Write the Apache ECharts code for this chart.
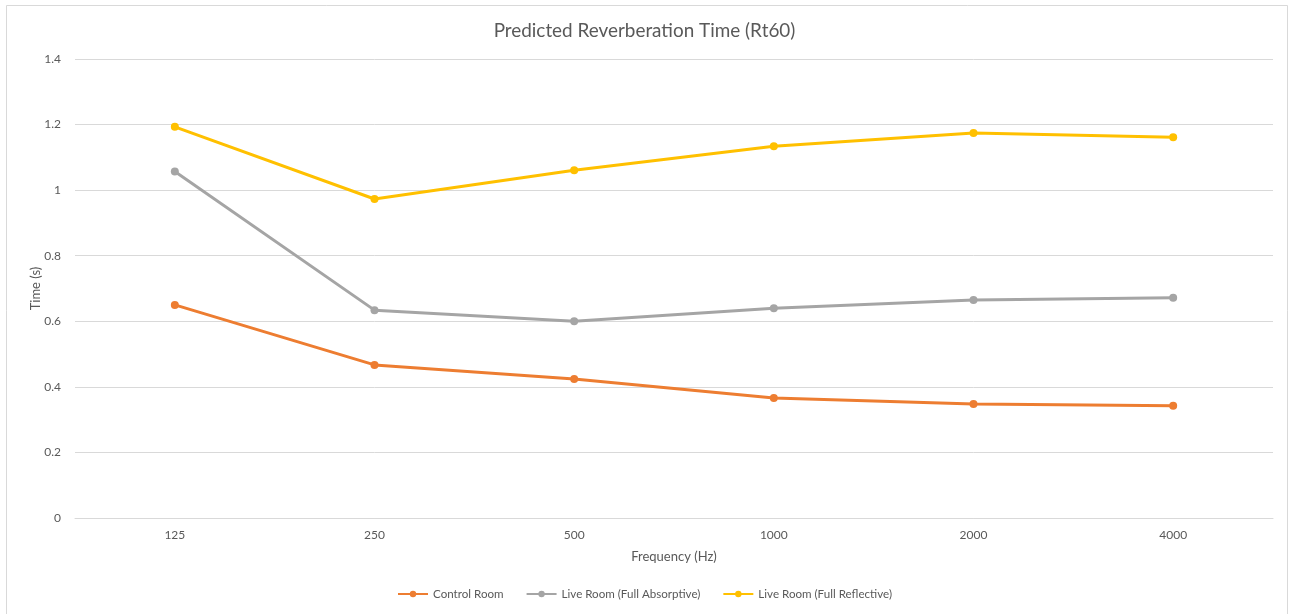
<!DOCTYPE html>
<html>
<head>
<meta charset="utf-8">
<script src="https://cdn.jsdelivr.net/npm/echarts@6/dist/echarts.min.js"></script>
<style>
  html, body { margin: 0; padding: 0; background: #fff; }
  #chart { width: 1289px; height: 614px; }
</style>
</head>
<body>
<div id="chart"></div>
<script>
// Octave-band centre frequencies (Hz)
const frequencies = ['125', '250', '500', '1000', '2000', '4000'];

// Predicted RT60 (seconds) per room configuration
const controlRoom = [0.650, 0.467, 0.424, 0.366, 0.348, 0.342];
const liveAbsorptive = [1.057, 0.634, 0.600, 0.640, 0.665, 0.672];
const liveReflective = [1.193, 0.973, 1.061, 1.134, 1.174, 1.161];

const yTicks = { min: 0, max: 1.4, interval: 0.2 };

const FONT = 'Lato, "Open Sans", sans-serif';
const TEXT = '#595959';

const chart = echarts.init(document.getElementById('chart'));

function lineSeries(name, data, color) {
  return {
    name: name,
    type: 'line',
    data: data,
    symbol: 'circle',
    symbolSize: 8,
    lineStyle: { width: 3, color: color },
    itemStyle: { color: color },
    emphasis: { disabled: true },
    animation: false
  };
}

chart.setOption({
  backgroundColor: '#fff',
  animation: false,
  title: {
    text: 'Predicted Reverberation Time (Rt60)',
    left: 'center',
    top: 16,
    textStyle: { fontFamily: FONT, fontSize: 18.9, fontWeight: 'normal', color: TEXT }
  },
  graphic: [{
    type: 'rect',
    shape: { x: 6.5, y: 5.5, width: 1281, height: 620 },
    style: { fill: 'none', stroke: '#d9d9d9', lineWidth: 1 },
    silent: true
  }],
  legend: {
    bottom: 9,
    left: 'center',
    itemWidth: 30,
    itemHeight: 8,
    itemGap: 22,
    textStyle: { fontFamily: FONT, fontSize: 11.6, color: TEXT },
    data: ['Control Room', 'Live Room (Full Absorptive)', 'Live Room (Full Reflective)']
  },
  grid: { left: 75, right: 16, top: 59, bottom: 96 },
  xAxis: {
    type: 'category',
    data: frequencies,
    boundaryGap: true,
    name: 'Frequency (Hz)',
    nameLocation: 'middle',
    nameGap: 32,
    nameTextStyle: { fontFamily: FONT, fontSize: 13, color: TEXT },
    axisLine: { show: true, lineStyle: { color: '#d9d9d9' } },
    axisTick: { show: false },
    axisLabel: { fontFamily: FONT, fontSize: 12, color: TEXT, margin: 11 }
  },
  yAxis: {
    type: 'value',
    min: yTicks.min,
    max: yTicks.max,
    interval: yTicks.interval,
    name: 'Time (s)',
    nameLocation: 'middle',
    nameGap: 33,
    nameMoveOverlap: false,
    nameTextStyle: { fontFamily: FONT, fontSize: 13, color: TEXT },
    axisLine: { show: false },
    axisTick: { show: false },
    axisLabel: {
      fontFamily: FONT, fontSize: 12, color: TEXT, margin: 14,
      formatter: v => String(Math.round(v * 10) / 10)
    },
    splitLine: { lineStyle: { color: '#d9d9d9', width: 1 } }
  },
  series: [
    lineSeries('Control Room', controlRoom, '#ED7D31'),
    lineSeries('Live Room (Full Absorptive)', liveAbsorptive, '#A5A5A5'),
    lineSeries('Live Room (Full Reflective)', liveReflective, '#FFC000')
  ]
});
</script>
</body>
</html>
